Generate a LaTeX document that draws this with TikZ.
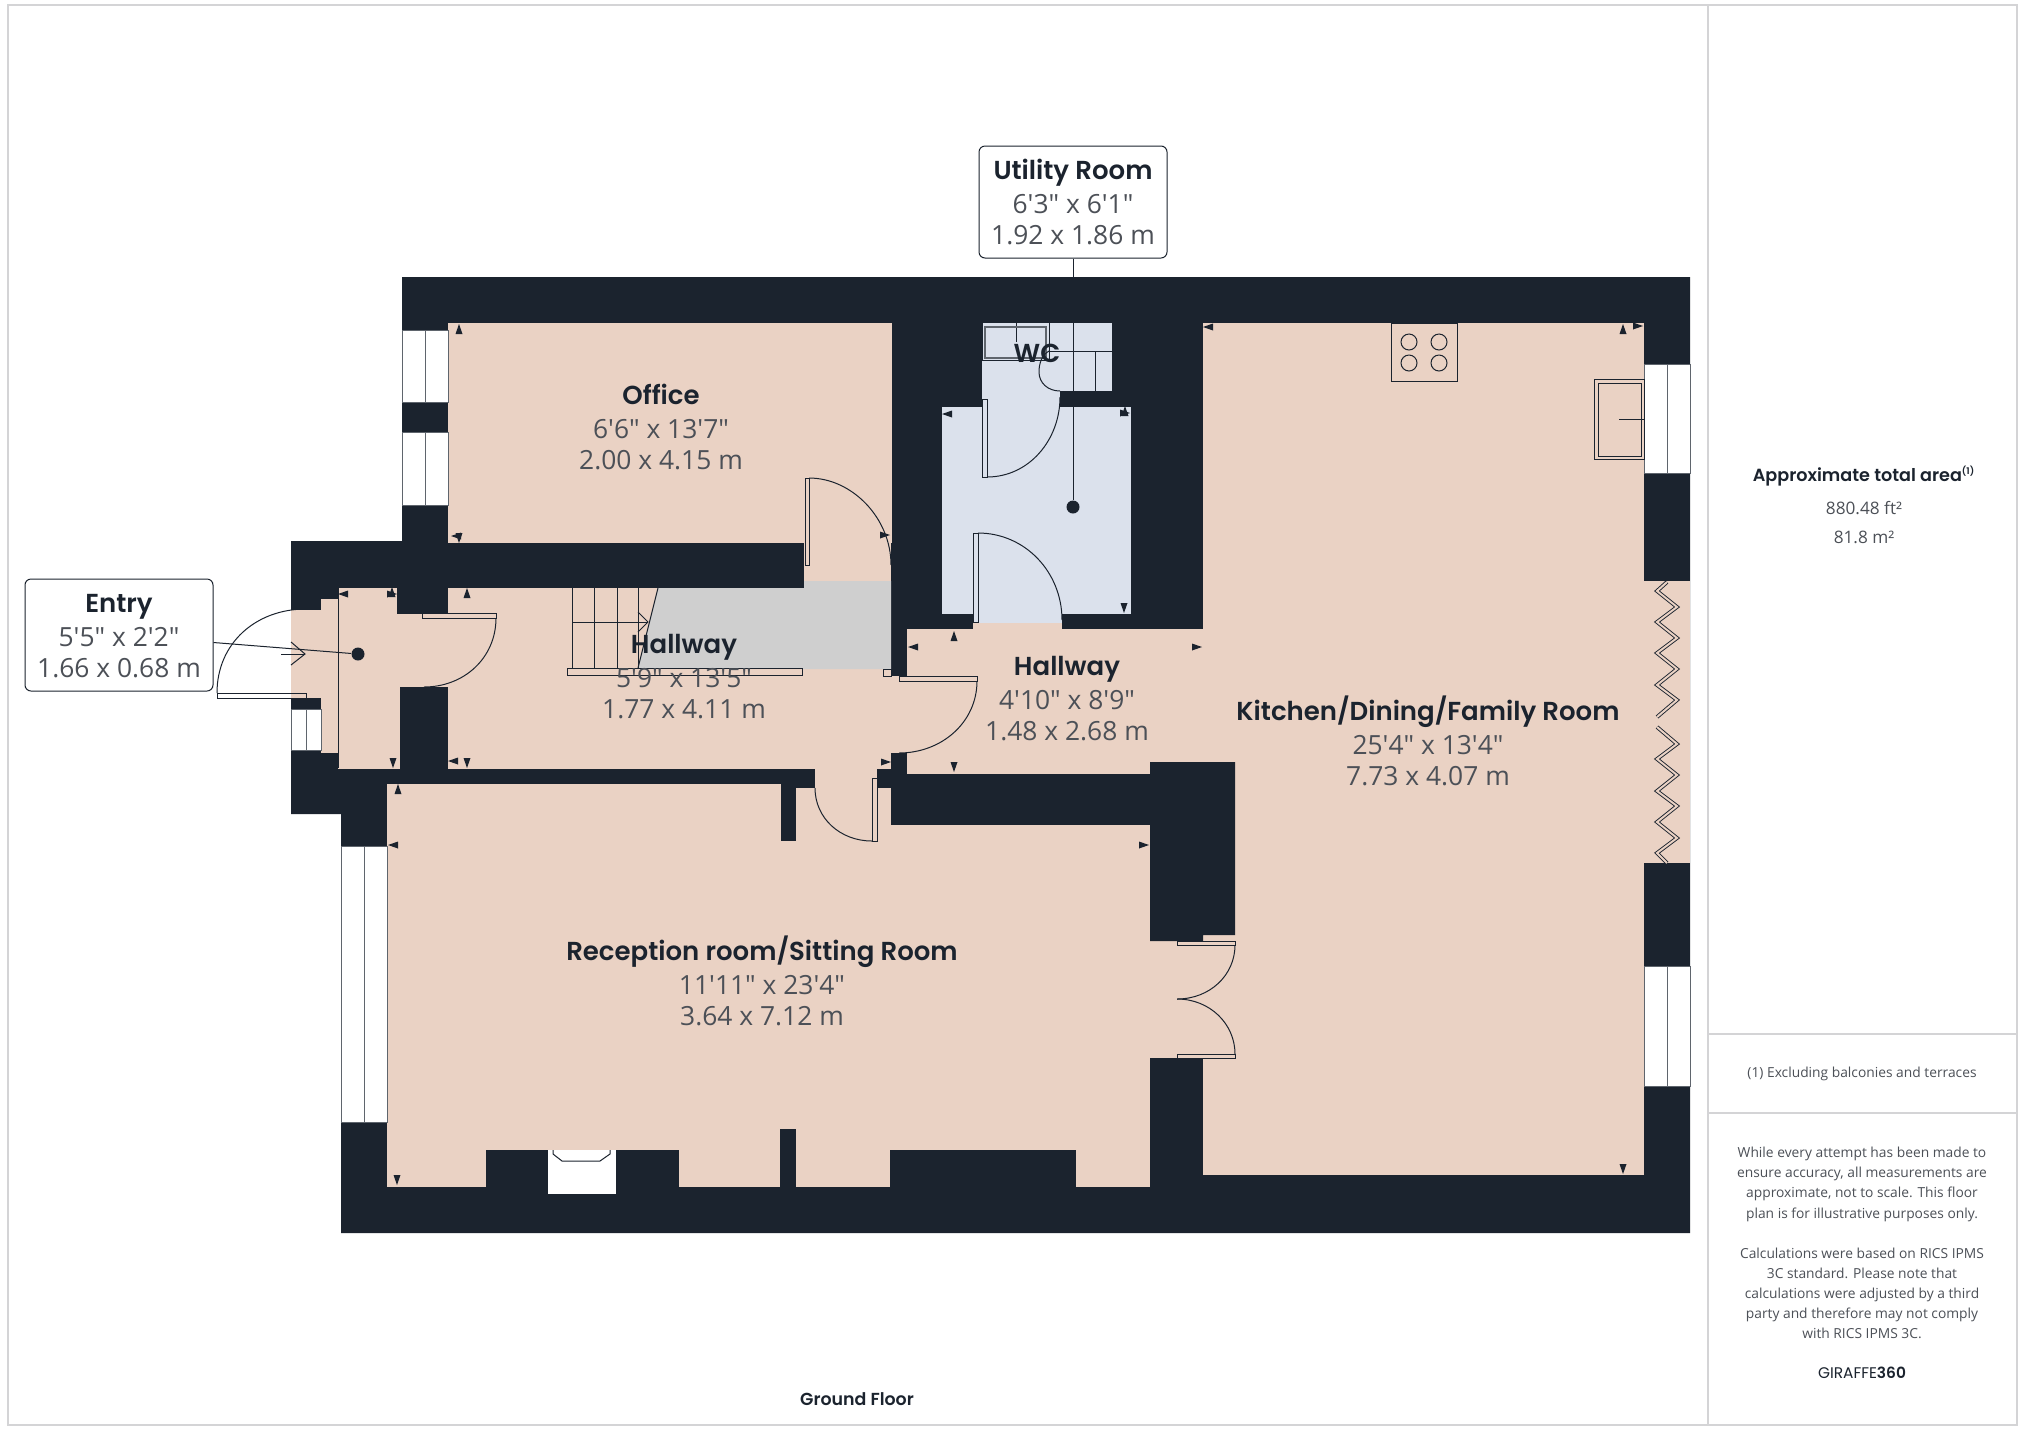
\documentclass[tikz,border=0pt]{standalone}
\usepackage{fontspec}
\usepackage{xcolor}
\usetikzlibrary{positioning, arrows.meta}
\newfontfamily\namefont{Poppins}[BoldFont={Poppins SemiBold}]
\newfontfamily\dimfont{Open Sans}
\definecolor{wallink}{HTML}{1B232E}
\definecolor{floorpeach}{HTML}{EAD2C4}
\definecolor{floorblue}{HTML}{DBE1EC}
\definecolor{floorgrey}{HTML}{CFCFCF}
\definecolor{framegrey}{HTML}{D4D4D6}
\definecolor{dimgrey}{HTML}{4C5057}

\begin{document}
\begin{tikzpicture}[
        x=0.5pt, y=-0.5pt,
        roomname/.style={font=\namefont\bfseries\fontsize{13}{15}\selectfont, text=wallink, inner sep=0pt, text height=10pt, text depth=3pt},
        roomdim/.style={font=\dimfont\fontsize{13.2}{15.6}\selectfont, text=dimgrey, align=center, inner sep=0pt},
        sidetext/.style={font=\dimfont\fontsize{6.9}{10.05}\selectfont, text=dimgrey, align=center, inner sep=0pt},
        sidehead/.style={font=\namefont\bfseries\fontsize{8.8}{11}\selectfont, text=wallink, inner sep=0pt},
        callout/.style={rectangle, rounded corners=3pt, draw=wallink, fill=white, line width=0.5pt, minimum width=94pt, minimum height=56pt},
        thinline/.style={draw=wallink, line width=0.5pt},
        leaf/.style={draw=wallink, line width=0.5pt, fill=floorpeach},
        glazing/.style={draw=wallink!70, line width=0.4pt, fill=white},
        pointer/.style={circle, fill=wallink, inner sep=0pt, minimum size=6.5pt},
        bifold/.style={draw=wallink, line width=0.45pt, double=floorpeach, double distance=1pt},
        panel/.style={draw=framegrey, line width=1pt}
    ]
        \useasboundingbox (0,0) rectangle (2024,1431);
        \fill[white] (0,0) rectangle (2024,1431);
        % Page frame
        \draw[panel] (8,5) rectangle (2017,1425);
        \draw[panel] (1708,5) -- (1708,1425);
        \draw[panel] (1708,1034) -- (2017,1034);
        \draw[panel] (1708,1113) -- (2017,1113);
        % Outer walls
        \fill[wallink] (402,277) -- (1690,277) -- (1690,1233) -- (341,1233) -- (341,814) -- (291,814) -- (291,541) -- (402,541) -- cycle;
        % Peach floors
        \fill[floorpeach] (448,323) rectangle (892,543);
        \fill[floorpeach] (804,543) rectangle (891,590);
        \fill[floorpeach] (448,588) rectangle (891,769);
        \fill[floorpeach] (338,588) rectangle (397,769);
        \fill[floorpeach] (338,614) rectangle (448,687);
        \fill[floorpeach] (397,687) rectangle (400,769);
        \fill[floorpeach] (321,599) rectangle (338,753);
        \fill[floorpeach] (291,610) rectangle (321,698);
        \fill[floorpeach] (891,676) rectangle (907,753);
        \fill[floorpeach] (907,629) rectangle (1150,774);
        \fill[floorpeach] (1150,629) rectangle (1235,762);
        \fill[floorpeach] (1203,323) rectangle (1644,1175);
        \fill[floorpeach] (1644,581) rectangle (1690,863);
        \fill[floorpeach] (973,623) rectangle (1062,630);
        \fill[floorpeach] (815,767) rectangle (877,789);
        \fill[floorpeach] (387,784) rectangle (781,1187);
        \fill[floorpeach] (781,841) rectangle (796,1187);
        \fill[floorpeach] (796,788) rectangle (891,1187);
        \fill[floorpeach] (891,825) rectangle (1150,1187);
        \fill[floorpeach] (1150,941) rectangle (1203,1058);
        % Walls standing in the floors
        \fill[wallink] (1150,762) -- (1235,762) -- (1235,935) -- (1203,935) -- (1203,941) -- (1150,941) -- cycle;
        \fill[wallink] (486,1150) rectangle (679,1188);
        \fill[wallink] (780,1129) rectangle (796,1188);
        \fill[wallink] (890,1150) rectangle (1076,1188);
        % Utility room and WC
        \fill[floorblue] (942,407) rectangle (1131,614);
        \fill[floorblue] (983,323) rectangle (1112,391);
        \fill[floorblue] (982,361) rectangle (1060,407);
        \fill[floorblue] (973,533) rectangle (1062,623);
        % Grey floor under the stairs
        \fill[floorgrey] (658,588) -- (804,588) -- (804,581) -- (891,581) -- (891,669) -- (638,669) -- cycle;
        % Windows
        \foreach \wx/\wtop/\wbot in {402/330/402, 402/432/505, 341/846/1122, 1644/364/473, 1644/966/1086} {
            \draw[glazing] (\wx,\wtop) rectangle ++(46,\wbot-\wtop);
            \draw[glazing] (\wx+23,\wtop) -- (\wx+23,\wbot);
        }
        \draw[glazing] (291,709) rectangle (321,750);
        \draw[glazing] (306,709) -- (306,750);
        % Fireplace
        \fill[white] (548,1150) rectangle (616,1194);
        \draw[thinline] (553,1150) -- (553,1154) -- (562,1161) -- (600,1161) -- (610,1154) -- (610,1150);
        % Bifold doors
        \draw[bifold] (1667,582) -- (1657,591) -- (1677,607) -- (1657,622) -- (1677,638) -- (1657,653) -- (1677,669) -- (1657,685) -- (1677,700) -- (1657,717);
        \draw[bifold] (1657,727) -- (1677,744) -- (1657,759) -- (1677,775) -- (1657,791) -- (1677,806) -- (1657,822) -- (1677,838) -- (1657,853) -- (1667,863);
        % Stairs
        \foreach \sx in {572,594,617,638} \draw[thinline] (\sx,588) -- (\sx,668);
        \draw[thinline] (572,622) -- (648,622);
        \draw[thinline] (658,588) -- (638,668);
        \draw[thinline] (638,612) -- (648,622) -- (638,632);
        \draw[leaf] (567,668) rectangle (802,675);
        \draw[leaf] (883,669) rectangle (891,676);
        % Entry line and arrow
        \draw[thinline] (338,588) -- (338,768);
        \draw[thinline] (281,654) -- (305,654);
        \draw[thinline] (291,642) -- (305,654) -- (291,665);
        % Doors
        \draw[thinline] (217,693) rectangle (306,698);
        \draw[thinline] (217,693) .. controls (217,643) and (256,609) .. (306,609);
        \draw[leaf] (422,613) rectangle (496,618);
        \draw[thinline] (496,618) .. controls (496,658) and (464,687) .. (424,687);
        \draw[leaf] (805,478) rectangle (809,565);
        \draw[thinline] (809,478) .. controls (852,478) and (891,518) .. (891,565);
        \draw[leaf] (899,676) rectangle (977,681);
        \draw[thinline] (977,681) .. controls (977,722) and (942,753) .. (899,753);
        \draw[leaf] (872,778) rectangle (877,841);
        \draw[thinline] (872,841) .. controls (840,841) and (815,818) .. (815,788);
        \draw[leaf] (1177,941) rectangle (1235,945);
        \draw[leaf] (1177,1054) rectangle (1235,1058);
        \draw[thinline] (1235,945) .. controls (1235,975) and (1210,999) .. (1177,999);
        \draw[thinline] (1235,1054) .. controls (1235,1024) and (1210,999) .. (1177,999);
        \draw[leaf, fill=floorblue] (982,399) rectangle (987,477);
        \draw[thinline] (987,477) .. controls (1029,477) and (1060,440) .. (1060,397);
        \draw[leaf, fill=floorblue] (973,533) rectangle (978,622);
        \draw[thinline] (978,533) .. controls (1025,533) and (1062,572) .. (1062,620);
        % WC fittings
        \draw[thinline] (983,360) -- (1049,360);
        \draw[thinline] (1049,323) -- (1049,360);
        \draw[thinline] (1049,351) -- (1112,351);
        \draw[thinline] (1095,351) -- (1095,391);
        \draw[thinline] (1016,323) -- (1016,342);
        \draw[draw=wallink!70, line width=0.8pt] (985,327) rectangle (1046,358);
        \draw[thinline] (1049,351) .. controls (1042,355) and (1039,363) .. (1039,372) .. controls (1039,383) and (1048,391) .. (1060,391);
        % Kitchen fittings
        \draw[thinline] (1391,323) rectangle (1457,381);
        \foreach \hx in {1409,1439} \foreach \hy in {342,363} \draw[thinline] (\hx,\hy) circle (8);
        \draw[thinline] (1594,379) rectangle (1644,459);
        \draw[thinline] (1598,383) rectangle (1641,456);
        \draw[thinline] (1619,419) -- (1644,419);
        % Corner markers, direction in degrees
        \foreach \mx/\my/\ma in {459/329/90, 456/536/180, 459/538/270, 343/594/180, 392/594/0, 392/592/90, 467/593/90,
            393/763/270, 453/761/180, 467/763/270, 398/789/90, 393/845/180, 885/535/0, 954/636/90, 913/647/180,
            886/762/0, 954/767/270, 1208/327/180, 947/414/180, 1125/413/0, 1125/411/90, 1124/608/270, 1197/647/0,
            1623/329/90, 1638/326/0, 1144/845/0, 397/1180/270, 1623/1169/270}
            \fill[wallink, shift={(\mx,\my)}, rotate=\ma] (5,0) -- (-5,3.5) -- (-5,-3.5) -- cycle;
        % Callout boxes
        \node[pointer] (entrydot) at (358,654) {};
        \node[pointer] (utilitydot) at (1073,507) {};
        \node[callout] (entrybox) at (119,635) {};
        \node[callout] (utilitybox) at (1073,202) {};
        \draw[thinline] (entrybox) -- (entrydot);
        \draw[thinline] (utilitybox) -- (utilitydot);
        % Room labels
        \node[roomname] (entryname) at (119,605) {Entry};
        \node[roomdim, below=4.2pt of entryname] (entrydim) {5'5" x 2'2"\\1.66 x 0.68 m};
        \node[roomname] (utilityname) at (1073,172) {Utility Room};
        \node[roomdim, below=4.2pt of utilityname] (utilitydim) {6'3" x 6'1"\\1.92 x 1.86 m};
        \node[roomname] (officename) at (661,397) {Office};
        \node[roomdim, below=4.2pt of officename] (officedim) {6'6" x 13'7"\\2.00 x 4.15 m};
        \node[roomname] (hallname) at (684,646) {Hallway};
        \node[roomdim, below=4.2pt of hallname] (halldim) {5'9" x 13'5"\\1.77 x 4.11 m};
        \node[roomname] (hallrightname) at (1067,668) {Hallway};
        \node[roomdim, below=4.2pt of hallrightname] (hallrightdim) {4'10" x 8'9"\\1.48 x 2.68 m};
        \node[roomname] (kitchenname) at (1428,713) {Kitchen/Dining/Family Room};
        \node[roomdim, below=4.2pt of kitchenname] (kitchendim) {25'4" x 13'4"\\7.73 x 4.07 m};
        \node[roomname] (receptionname) at (762,953) {Reception room/Sitting Room};
        \node[roomdim, below=4.2pt of receptionname] (receptiondim) {11'11" x 23'4"\\3.64 x 7.12 m};
        \node[roomname] (wcname) at (1037,355) {WC};
        \node[font=\namefont\bfseries\fontsize{8.7}{11}\selectfont, text=wallink, inner sep=0pt] (floorname) at (857,1399) {Ground Floor};
        % Side panel
        \node[sidehead] (areahead) at (1864,476) {Approximate total area\textsuperscript{\fontsize{4.6}{5}\selectfont(1)}};
        \node[sidetext, font=\dimfont\fontsize{8.6}{14.6}\selectfont, below=7pt of areahead] (areatext) {880.48 ft²\\81.8 m²};
        \node[sidetext] (noteone) at (1862,1074) {(1) Excluding balconies and terraces};
        \node[sidetext] (disclaimer) at (1862,1243) {While every attempt has been made to\\ensure accuracy, all measurements are\\approximate, not to scale. This floor\\plan is for illustrative purposes only.\\[10.05pt]Calculations were based on RICS IPMS\\3C standard. Please note that\\calculations were adjusted by a third\\party and therefore may not comply\\with RICS IPMS 3C.};
        \node[font=\namefont\fontsize{7.7}{10}\selectfont, text=wallink, inner sep=0pt] (brand) at (1862,1373) {GIRAFFE\textbf{360}};
    \end{tikzpicture}
\end{document}
